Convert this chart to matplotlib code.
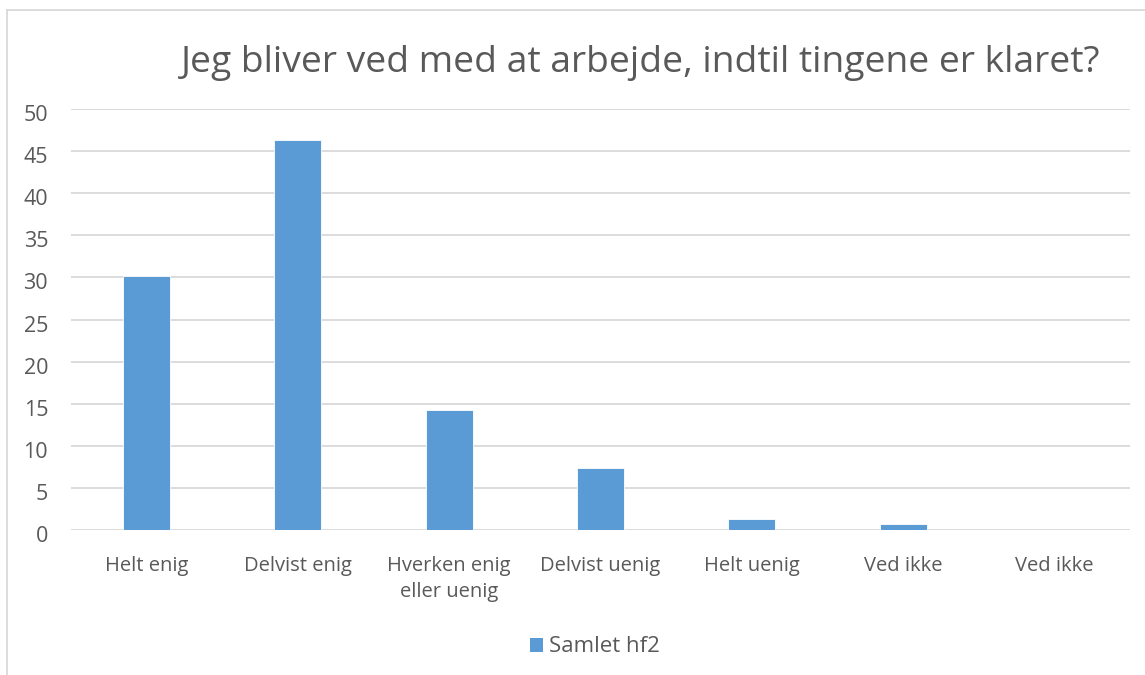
import matplotlib
matplotlib.use("Agg")
import matplotlib.pyplot as plt
from matplotlib.lines import Line2D
from matplotlib.patches import Patch
from matplotlib.transforms import ScaledTranslation

categories = ["Helt enig", "Delvist enig", "Hverken enig\neller uenig", "Delvist uenig",
              "Helt uenig", "Ved ikke", "Ved ikke"]
values = [30.2, 46.3, 14.2, 7.4, 1.35, 0.68, 0]
series_name = "Samlet hf2"
title = "Jeg bliver ved med at arbejde, indtil tingene er klaret?"
yticks = [0, 5, 10, 15, 20, 25, 30, 35, 40, 45, 50]

W, H = 1145, 675
plt.rcParams['font.family'] = ['Open Sans', 'DejaVu Sans']
txt = "#595959"
bar_c = "#5B9BD5"
grid_c = "#D9D9D9"

fig = plt.figure(figsize=(W / 100, H / 100), dpi=100)
ax = fig.add_axes([71 / W, 1 - 530 / H, (1130 - 71) / W, (530 - 109) / H])

x = list(range(len(categories)))
ax.bar(x, values, width=0.31, color=bar_c, edgecolor="white", linewidth=0.6, zorder=3)
ax.set_xlim(-0.5, len(categories) - 0.5)
ax.set_ylim(0, 50)
ax.set_yticks(yticks)
ax.set_yticklabels([str(v) for v in yticks], fontsize=15.5, color=txt)
ax.set_xticks(x)
ax.set_xticklabels(categories, fontsize=14.5, color=txt, linespacing=1.4, va="top")
ax.tick_params(axis="both", length=0)
ax.tick_params(axis="y", pad=16.5)
ax.tick_params(axis="x", pad=19)
for lbl in ax.get_yticklabels():
    lbl.set_transform(lbl.get_transform() + ScaledTranslation(0, -4 / 100, fig.dpi_scale_trans))
for s in ax.spines.values():
    s.set_visible(False)
ax.grid(axis="y", color=grid_c, linewidth=1.3, zorder=0)
ax.set_axisbelow(True)

# Title
fig.text(641 / W, 1 - 63 / H, title, fontsize=26.8, color=txt, ha="center", va="center")

# Legend
leg_handle = Patch(facecolor=bar_c, edgecolor="none")
leg = fig.legend([leg_handle], [series_name], loc="center", bbox_to_anchor=(595 / W, 1 - 647 / H),
                 frameon=False, fontsize=16, handlelength=0.6, handleheight=0.6,
                 handletextpad=0.25, labelcolor=txt)

# Chart border (partial, as in the reference)
fig.add_artist(Line2D([7 / W, 7 / W], [0, 1 - 10 / H], color=grid_c, linewidth=1.3))
fig.add_artist(Line2D([7 / W, 1], [1 - 10 / H, 1 - 10 / H], color=grid_c, linewidth=1.3))

fig.savefig("out.png", dpi=100, facecolor="white")
